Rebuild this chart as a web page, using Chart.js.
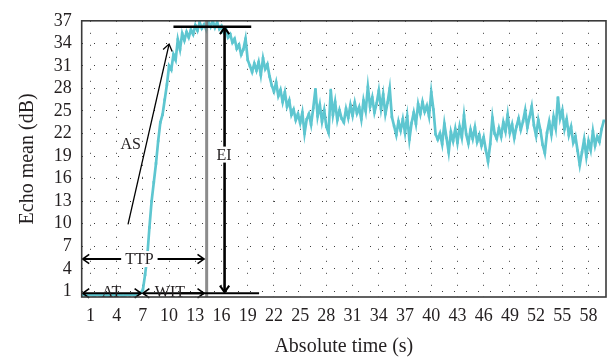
<!DOCTYPE html>
<html>
<head>
<meta charset="utf-8">
<script src="https://cdn.jsdelivr.net/npm/chart.js@4.4.1/dist/chart.umd.min.js"></script>
<style>
  html, body { margin: 0; padding: 0; background: #fff; }
  #wrap { width: 610px; height: 360px; }
</style>
</head>
<body>
<div id="wrap"><canvas id="ticChart" width="610" height="360"></canvas></div>
<script>
// time-intensity curve, one sample every 0.25 s
var sampleStep = 0.25;
var echoMean = [
  // 0 - 6.75 s
  0.5, 0.6, 0.4, 0.5, 0.6, 0.5, 0.4, 0.6, 0.5, 0.4, 0.6, 0.5, 0.4, 0.5,
  0.6, 0.5, 0.5, 0.6, 0.5, 0.4, 0.5, 0.6, 0.5, 0.6, 0.5, 0.6, 0.7, 0.8,
  // 7 - 9.75 s
  1.2, 3.2, 5.6, 9.5, 13.0, 15.5, 18.0, 21.0, 23.5, 24.5, 26.5, 28.5,
  // 10 - 13.75 s
  31.0, 30.5, 32.5, 31.8, 34.5, 33.2, 35.3, 34.4, 35.5, 34.8, 35.8, 35.2, 36.4, 35.7, 36.8, 36.0,
  // 14 - 17.75 s
  36.5, 35.8, 36.9, 36.2, 37.0, 36.1, 36.8, 35.9, 36.3, 35.5, 35.9, 34.8, 35.2, 34.1, 34.6, 33.3,
  // 18 - 21.75 s
  33.8, 32.5, 33.2, 34.6, 31.8, 31.0, 30.2, 31.3, 30.4, 31.5, 29.8, 32.0, 30.6, 31.2, 29.6, 28.4,
  // 22 - 25.75 s
  27.6, 28.8, 27.0, 27.8, 26.2, 27.5, 25.6, 26.4, 24.5, 25.2, 23.8, 24.6, 23.4, 24.8, 22.0, 23.9,
  // 26 - 29.75 s
  24.6, 23.2, 25.4, 27.9, 24.3, 25.8, 23.6, 25.1, 22.9, 22.1, 27.8, 24.5, 26.2, 23.8, 25.1, 24.0,
  // 30 - 33.75 s
  23.5, 25.3, 24.1, 25.8, 24.4, 26.1, 24.7, 25.5, 23.9, 26.4, 25.0, 28.2, 25.6, 26.8, 24.8, 26.0,
  // 34 - 37.75 s
  27.7, 25.3, 27.2, 24.6, 26.1, 28.0, 24.2, 23.0, 21.8, 23.6, 22.4, 23.9, 22.1, 24.3, 21.2, 23.4,
  // 38 - 41.75 s
  24.8, 23.3, 25.9, 24.6, 26.2, 24.9, 25.7, 24.3, 27.5, 25.2, 21.9, 21.2, 22.0, 20.6, 23.3, 21.4,
  // 42 - 45.75 s
  19.5, 22.2, 21.0, 22.6, 20.8, 22.9, 21.5, 24.4, 21.9, 20.7, 22.5, 21.3, 22.8, 20.9, 21.8, 20.4,
  // 46 - 49.75 s
  21.5, 19.8, 18.3, 20.6, 24.1, 22.0, 21.3, 22.7, 21.6, 23.5, 22.3, 24.5, 22.1, 23.2, 21.4, 22.9,
  // 50 - 53.75 s
  24.0, 22.5, 23.6, 25.1, 22.8, 24.2, 25.6, 23.1, 21.7, 23.8, 22.4, 20.5, 19.4, 22.1, 23.6, 21.9,
  // 54 - 57.75 s
  24.2, 22.7, 26.8, 24.0, 25.1, 22.6, 23.9, 21.8, 22.9, 20.8, 21.6, 19.7, 17.8, 19.5, 21.2, 18.9,
  // 58 - 59.75 s
  21.0, 19.8, 22.3, 20.4, 21.6, 20.9, 22.6, 23.7
];

var xTicks = [1, 4, 7, 10, 13, 16, 19, 22, 25, 28, 31, 34, 37, 40, 43, 46, 49, 52, 55, 58];
var yTicks = [1, 4, 7, 10, 13, 16, 19, 22, 25, 28, 31, 34, 37];

// annotation positions in data units
var peakTime = 14.3;                 // grey vertical marker
var atArrow = [0, 6.8, 0.75];        // x from, x to, y
var witArrow = [7.0, 14.0, 0.75];
var ttpArrow = [0, 14.0, 5.3];
var eiArrow = [16.35, 0.9, 36.1];    // x, y from, y to
var topBar = [10.5, 19.4, 36.2];     // x from, x to, y
var baseBar = [11.2, 20.3, 0.75];
var asArrow = [5.3, 9.9, 10.0, 33.9]; // x1, y1, x2, y2
var annoLabels = [
  { text: 'AT', x: 3.4, y: 0.95, box: false },
  { text: 'WIT', x: 10.1, y: 0.95, box: false },
  { text: 'TTP', x: 6.6, y: 5.3, box: true },
  { text: 'AS', x: 5.6, y: 20.7, box: false },
  { text: 'EI', x: 16.3, y: 19.2, box: true }
];

(function () {
  var serif = "'Liberation Serif', 'DejaVu Serif', serif";
  var ink = '#231f20';
  var cyan = '#5ec6d0';

  var points = echoMean.map(function (v, i) {
    return { x: i * sampleStep, y: v };
  });

  var annotate = {
    id: 'annotate',
    afterDatasetsDraw: function (chart) {
      var c = chart.ctx;
      var xs = chart.scales.x, ys = chart.scales.y;
      var area = chart.chartArea;
      function px(v) { return xs.getPixelForValue(v); }
      function py(v) { return ys.getPixelForValue(v); }

      function seg(x1, y1, x2, y2, w, col) {
        c.save();
        c.strokeStyle = col || '#000';
        c.lineWidth = w;
        c.beginPath();
        c.moveTo(x1, y1);
        c.lineTo(x2, y2);
        c.stroke();
        c.restore();
      }
      function head(xt, yt, ang, w) {
        var L = 8, spread = 0.62;
        c.save();
        c.strokeStyle = '#000';
        c.lineWidth = w;
        c.beginPath();
        c.moveTo(xt - L * Math.cos(ang - spread), yt - L * Math.sin(ang - spread));
        c.lineTo(xt, yt);
        c.lineTo(xt - L * Math.cos(ang + spread), yt - L * Math.sin(ang + spread));
        c.stroke();
        c.restore();
      }
      function arrow(x1, y1, x2, y2, w, both) {
        seg(x1, y1, x2, y2, w);
        var ang = Math.atan2(y2 - y1, x2 - x1);
        head(x2, y2, ang, Math.max(1.3, w * 0.8));
        if (both) head(x1, y1, ang + Math.PI, Math.max(1.3, w * 0.8));
      }

      // grey peak-time marker
      seg(px(peakTime), area.top, px(peakTime), area.bottom, 3, 'rgba(120,120,120,0.85)');

      // horizontal bars
      seg(px(topBar[0]), py(topBar[2]), px(topBar[1]), py(topBar[2]), 2.5);
      seg(px(baseBar[0]), py(baseBar[2]), px(baseBar[1]), py(baseBar[2]), 2.2);

      // arrows
      arrow(px(atArrow[0]) + 1, py(atArrow[2]), px(atArrow[1]), py(atArrow[2]), 2, true);
      arrow(px(witArrow[0]), py(witArrow[2]), px(witArrow[1]), py(witArrow[2]), 2, true);
      arrow(px(ttpArrow[0]) + 1, py(ttpArrow[2]), px(ttpArrow[1]), py(ttpArrow[2]), 2, true);
      arrow(px(eiArrow[0]), py(eiArrow[1]), px(eiArrow[0]), py(eiArrow[2]), 2.6, true);
      arrow(px(asArrow[0]), py(asArrow[1]), px(asArrow[2]), py(asArrow[3]), 1.3, false);

      // labels
      c.save();
      c.font = '16px ' + serif;
      c.textAlign = 'center';
      c.textBaseline = 'middle';
      annoLabels.forEach(function (l) {
        var x = px(l.x), y = py(l.y);
        if (l.box) {
          var w = c.measureText(l.text).width;
          c.fillStyle = '#fff';
          c.fillRect(x - w / 2 - 4, y - 8, w + 8, 16);
        }
        c.fillStyle = ink;
        c.fillText(l.text, x, y + 1);
      });
      c.restore();
    },
    afterDraw: function (chart) {
      var c = chart.ctx, a = chart.chartArea;
      c.save();
      c.lineWidth = 1.6;
      c.strokeStyle = '#3a3a3a';
      c.strokeRect(a.left, a.top, a.right - a.left, a.bottom - a.top);
      c.restore();
    }
  };

  var gridStyle = { color: '#3c3c3c', lineWidth: 1, drawTicks: false };

  new Chart(document.getElementById('ticChart').getContext('2d'), {
    type: 'line',
    data: {
      datasets: [{
        data: points,
        borderColor: cyan,
        backgroundColor: cyan,
        borderWidth: 2.7,
        pointStyle: 'rect',
        pointRadius: 1.8,
        pointBorderWidth: 0,
        tension: 0
      }]
    },
    options: {
      responsive: false,
      animation: false,
      devicePixelRatio: 1,
      layout: { padding: { top: 15, right: 3, left: 0, bottom: 0 } },
      plugins: { legend: { display: false }, tooltip: { enabled: false } },
      scales: {
        x: {
          type: 'linear',
          min: 0,
          max: 60,
          afterBuildTicks: function (s) { s.ticks = xTicks.map(function (v) { return { value: v }; }); },
          afterFit: function (s) { s.height = 63; },
          grid: gridStyle,
          border: { display: false, dash: [1, 11] },
          ticks: { color: ink, padding: 8, maxRotation: 0, autoSkip: false, font: { family: serif, size: 18 } },
          title: { display: true, text: 'Absolute time (s)', color: ink, padding: { top: 0, bottom: 1 }, font: { family: serif, size: 20 } }
        },
        y: {
          min: 0.25,
          max: 37,
          afterBuildTicks: function (s) { s.ticks = yTicks.map(function (v) { return { value: v }; }); },
          afterFit: function (s) { s.width = 81.7; },
          grid: gridStyle,
          border: { display: false, dash: [1, 11] },
          ticks: { color: ink, padding: 10, autoSkip: false, font: { family: serif, size: 18 } },
          title: { display: true, text: 'Echo mean (dB)', color: ink, padding: { top: 16, bottom: 0 }, font: { family: serif, size: 20 } }
        }
      }
    },
    plugins: [annotate]
  });
})();
</script>
</body>
</html>
